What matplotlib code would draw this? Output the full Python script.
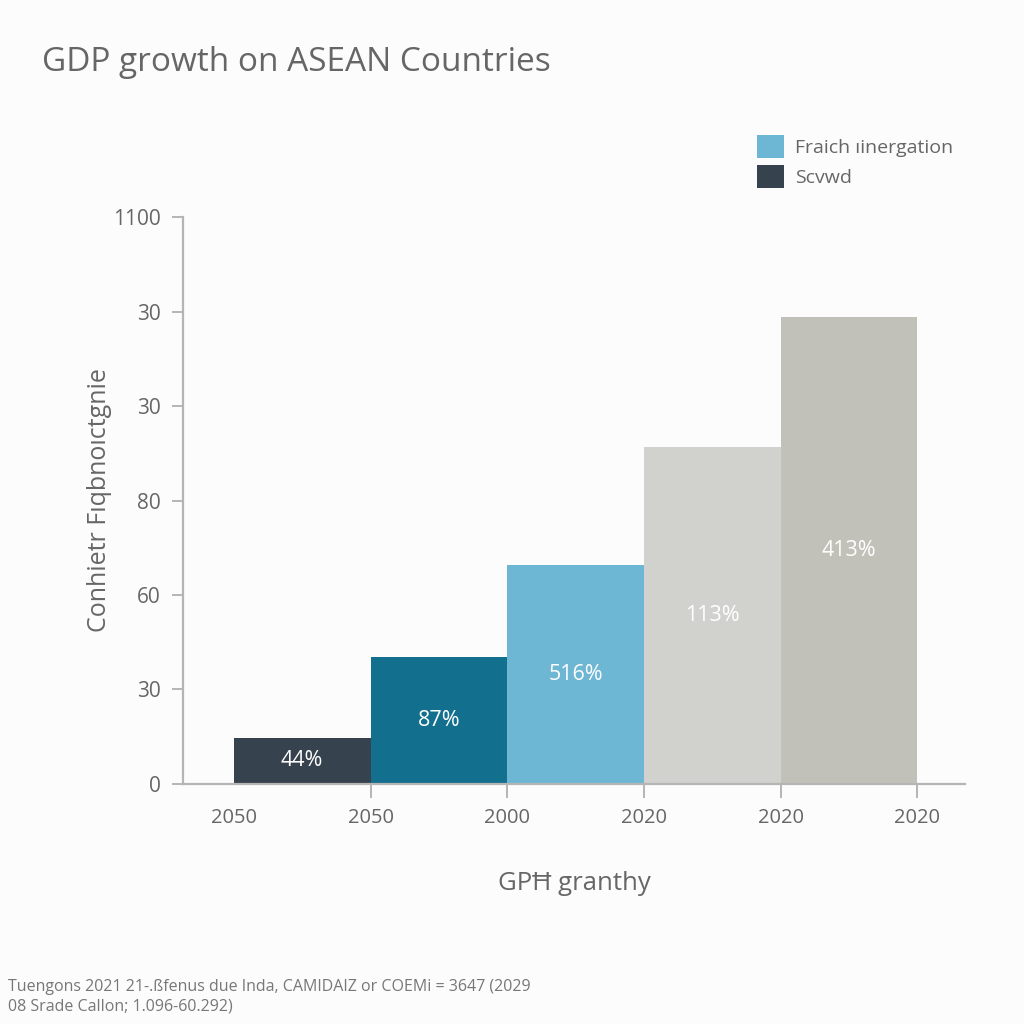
import matplotlib
matplotlib.use("Agg")
import matplotlib.pyplot as plt
from matplotlib.patches import Patch

plt.rcParams['font.family'] = ['Open Sans', 'DejaVu Sans']

# ---- data ----
bar_heights = [0.49, 1.34, 2.32, 3.57, 4.94]
bar_labels = ["44%", "87%", "516%", "113%", "413%"]
bar_colors = ["#37424f", "#136f8e", "#6db6d4", "#d1d2cd", "#c2c1b9"]
x_tick_labels = ["2050", "2050", "2000", "2020", "2020", "2020"]
y_tick_labels = ["0", "30", "60", "80", "30", "30", "1100"]
legend_labels = ["Fraich ıinergation", "Scvwd"]
legend_colors = ["#6db6d4", "#37424f"]
title = "GDP growth on ASEAN Countries"
xlabel = "GPĦ granthy"
ylabel = "Conhietr Fıqbnoıctgnie"
footnote = ("Tuengons 2021 21-.ßfenus due Inda, CAMIDAIZ or COEMi = 3647 (2029\n"
            "08 Srade Callon; 1.096-60.292)")

bg = "#fcfcfc"
fig = plt.figure(figsize=(10.24, 10.24), dpi=100, facecolor=bg)
ax = fig.add_axes([0.1787, 0.2344, 0.9424 - 0.1787, 0.788 - 0.2344])
ax.set_facecolor(bg)

xs = list(range(len(bar_heights)))
ax.bar(xs, bar_heights, width=1.0, color=bar_colors, edgecolor="none")
for x, h, t in zip(xs, bar_heights, bar_labels):
    ax.text(x, h / 2, t, ha="center", va="center", color="white", fontsize=15.5)

ax.set_xlim(-0.872, 4.85)
ax.set_ylim(0, 6.0)

xt = [i - 0.5 for i in range(len(x_tick_labels))]
ax.set_xticks(xt)
ax.set_xticklabels(x_tick_labels)
ax.set_yticks(range(len(y_tick_labels)))
ax.set_yticklabels(y_tick_labels)

spine_c = "#b5b5b5"
for s in ["top", "right"]:
    ax.spines[s].set_visible(False)
for s in ["left", "bottom"]:
    ax.spines[s].set_color(spine_c)
    ax.spines[s].set_linewidth(1.6)

ax.tick_params(axis="x", length=10, width=1.4, color=spine_c, pad=7,
               labelsize=14.5, labelcolor="#666666", direction="out")
ax.tick_params(axis="y", length=8, width=1.4, color=spine_c, pad=8,
               labelsize=15, labelcolor="#666666")
ax.get_xticklines()[0].set_visible(False)

ax.set_xlabel(xlabel, fontsize=18.5, color="#666666", labelpad=31)
ax.set_ylabel(ylabel, fontsize=18, color="#666666", labelpad=1)

fig.text(0.041, 0.939, title, fontsize=24, color="#666666", ha="left", va="center")

handles = [Patch(facecolor=c, edgecolor="none") for c in legend_colors]
leg = fig.legend(handles, legend_labels, loc="upper left",
                 bbox_to_anchor=(0.722, 0.885), frameon=False,
                 fontsize=14, handlelength=1.4, handleheight=1.45,
                 handletextpad=0.55, labelspacing=0.35)
for t in leg.get_texts():
    t.set_color("#666666")

fig.text(0.008, 0.0265, footnote, fontsize=11.5, color="#777777",
         ha="left", va="center", linespacing=1.35)

fig.savefig("out.png", dpi=100, facecolor=bg)
